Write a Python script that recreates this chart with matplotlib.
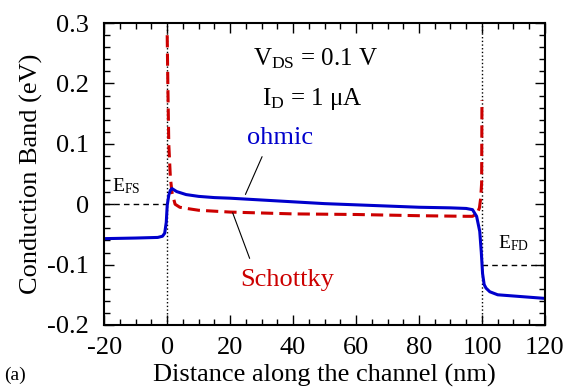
import matplotlib
matplotlib.use('Agg')
import matplotlib.pyplot as plt
from matplotlib.ticker import MultipleLocator

plt.rcParams['font.family'] = ['Liberation Serif', 'DejaVu Serif']
plt.rcParams['mathtext.fontset'] = 'custom'
plt.rcParams['mathtext.rm'] = 'Liberation Serif'
plt.rcParams['mathtext.it'] = 'Liberation Serif:italic'

# ohmic contact (blue, solid)
ohmic_x = [-20, -10, -3, -1.5, -0.8, -0.3, 0, 0.5, 1.0, 1.5, 3, 6, 10, 15, 20,
           30, 40, 50, 60, 70, 80, 90, 95, 97, 98.3, 99.3, 99.8, 100.2, 100.7,
           101.3, 102.5, 105, 110, 115, 120]
ohmic_y = [-0.057, -0.056, -0.055, -0.053, -0.048, -0.030, -0.002, 0.015, 0.023,
           0.026, 0.021, 0.016, 0.013, 0.011, 0.010, 0.007, 0.004, 0.001, -0.001,
           -0.003, -0.005, -0.006, -0.007, -0.009, -0.020, -0.045, -0.080, -0.115,
           -0.133, -0.139, -0.145, -0.150, -0.152, -0.154, -0.156]

# Schottky contact (red, dashed)
schottky_x = [0, 0.2, 0.5, 1.0, 1.5, 2.5, 4, 6.2, 10, 20, 40, 60, 80, 95, 97,
              98.5, 99.2, 99.6, 99.9, 100]
schottky_y = [0.28, 0.2, 0.1, 0.045, 0.02, 0.0, -0.005, -0.007, -0.010, -0.013,
              -0.016, -0.017, -0.019, -0.020, -0.020, -0.015, -0.006, 0.010, 0.035,
              0.172]

fig = plt.figure(figsize=(5.76, 3.92), dpi=100)
ax = fig.add_axes([0.181, 0.171, 0.765, 0.770])

ax.axvline(0, color='black', ls=':', lw=1)
ax.axvline(100, color='black', ls=':', lw=1)
ax.plot([-20, 0], [0, 0], color='black', ls=(0, (4, 3)), lw=1)
ax.plot([100, 120], [-0.1, -0.1], color='black', ls=(0, (4, 3)), lw=1)

ax.plot(schottky_x, schottky_y, color='#cc0000', lw=2.2, ls=(0, (4, 2)))
ax.plot(ohmic_x, ohmic_y, color='#0000cc', lw=2.2)

ax.set_xlim(-20, 120)
ax.set_ylim(-0.2, 0.3)
ax.xaxis.set_minor_locator(MultipleLocator(5))
ax.yaxis.set_minor_locator(MultipleLocator(0.02))
ax.set_yticks([-0.2, -0.1, 0, 0.1, 0.2, 0.3])
ax.set_yticklabels(['-0.2', '-0.1', '0', '0.1', '0.2', '0.3'])
ax.set_xticks([-20, 0, 20, 40, 60, 80, 100, 120])
ax.set_xticklabels(['-20', '0', '20', '40', '60', '80', '100', '120'])
ax.tick_params(which='both', direction='in', top=True, right=True, labelsize=19, width=1)
ax.tick_params(which='major', length=7)
ax.tick_params(which='minor', length=4)
ax.tick_params(axis='x', which='major', pad=9)
ax.tick_params(axis='y', which='major', pad=11)
for s in ax.spines.values():
    s.set_linewidth(1.5)

ax.set_xlabel('Distance along the channel (nm)', fontsize=19, labelpad=3)
ax.set_ylabel('Conduction Band (eV)', fontsize=19, labelpad=3)

ax.text(47, 0.241, r'V$_{\rm DS}$ = 0.1 V', fontsize=18, ha='center', va='center')
ax.text(46, 0.174, r'I$_{\rm D}$ = 1 μA', fontsize=18, ha='center', va='center')
ax.text(-13, 0.030, r'E$_{\rm FS}$', fontsize=14, ha='center', va='center')
ax.text(110, -0.065, r'E$_{\rm FD}$', fontsize=14, ha='center', va='center')

ax.text(36, 0.110, 'ohmic', fontsize=19, color='#0000cc', ha='center', va='center')
ax.annotate('', xy=(24.5, 0.012), xytext=(30.5, 0.083),
            arrowprops=dict(arrowstyle='-', color='black', lw=0.8))
ax.text(38, -0.125, 'Schottky', fontsize=19, color='#cc0000', ha='center', va='center')
ax.annotate('', xy=(20.5, -0.010), xytext=(26.5, -0.094),
            arrowprops=dict(arrowstyle='-', color='black', lw=0.8))

fig.text(0.026, 0.043, '(a)', fontsize=14, ha='center', va='center')

fig.savefig('out.png', dpi=100)
